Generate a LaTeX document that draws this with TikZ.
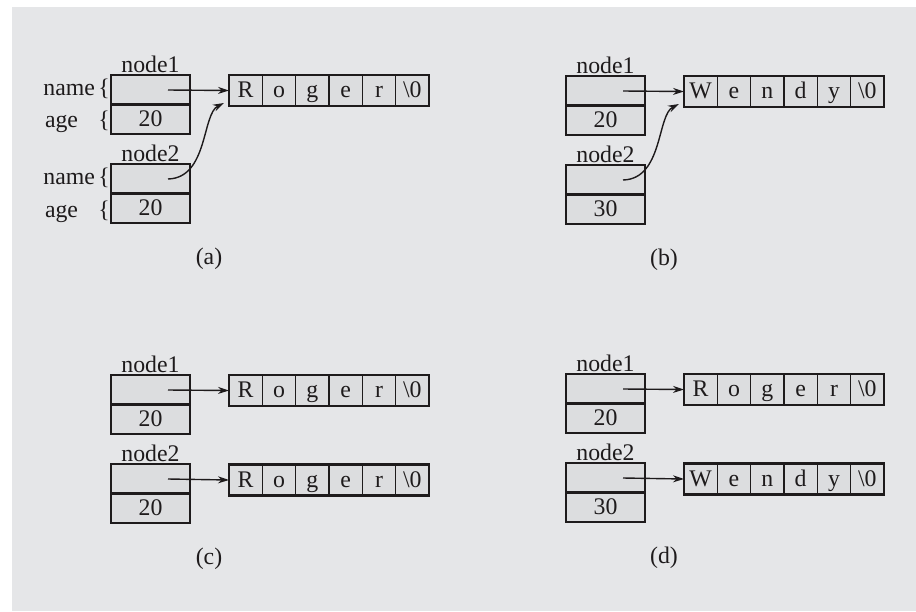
\documentclass[tikz,border=0pt]{standalone}
\usepackage{fontspec}
\setmainfont{Liberation Serif}
\usetikzlibrary{arrows.meta}
\definecolor{bgc}{HTML}{E5E6E8}
\definecolor{cellc}{HTML}{DCDDDF}
\definecolor{ink}{HTML}{1E1B1C}
\tikzset{
  every node/.style={font=\fontsize{23.8}{28}\selectfont, text=ink},
  lbl/.style={anchor=base, inner sep=0pt, outer sep=0pt},
  fcell/.style={draw=ink, fill=cellc, line width=2.2pt, minimum width=79pt, minimum height=29.5pt,
                inner sep=0pt, outer sep=0pt, text height=16pt, text depth=1.5pt},
  scell/.style={draw=ink, fill=cellc, line width=1.6pt, minimum width=33.33pt, minimum height=31pt,
                inner sep=0pt, outer sep=0pt, text height=16pt, text depth=1.5pt},
  souter/.style={draw=ink, line width=2.4pt},
  arr/.style={draw=ink, line width=1.4pt, -{Stealth[length=11pt,width=7pt]}}
}
\newcommand{\mkstruct}[3]{%
  \node[lbl] (#1t1) at (150.5,72) {node1};
  \node[fcell] (#1n1) at (150.5,89.75) {};
  \node[fcell] (#1v1) at (150.5,119.25) {#2};
  \node[lbl] (#1t2) at (150.5,161) {node2};
  \node[fcell] (#1n2) at (150.5,178.75) {};
  \node[fcell] (#1v2) at (150.5,208.25) {#3};
  \coordinate (#1p1) at (168,90);
  \coordinate (#1p2) at (168,179);
}
\newcommand{\mkstring}[3]{%
  \foreach \c [count=\i] in {#3} {
    \node[scell] (#1\i) at ({229+33.333*(\i-0.5)},#2) {\c};
  }
  \draw[souter] (#11.north west) rectangle (#16.south east);
}
\begin{document}
\begin{tikzpicture}[x=1pt,y=-1pt]
\useasboundingbox (0,0) rectangle (916,611);
\fill[bgc] (12,7) rectangle (916,611);

% (a)
\begin{scope}
  \mkstruct{a}{20}{20}
  \mkstring{as}{90.5}{R,o,g,e,r,\textbackslash 0}
  \node[lbl, anchor=base east] (aname1) at (95,95) {name};
  \node[lbl] (abr1) at (104,95) {\{};
  \node[lbl, anchor=base west] (aage1) at (45,127) {age};
  \node[lbl] (abr2) at (104,127) {\{};
  \node[lbl, anchor=base east] (aname2) at (95,184) {name};
  \node[lbl] (abr3) at (104,184) {\{};
  \node[lbl, anchor=base west] (aage2) at (45,217) {age};
  \node[lbl] (abr4) at (104,217) {\{};
  \coordinate (ae) at (224,103);
  \draw[arr] (ap1) -- (as1.west);
  \draw[arr] (ap2) .. controls (208,178) and (202,114) .. (ae);
  \node[lbl] (acap) at (209,264) {(a)};
\end{scope}

% (b)
\begin{scope}[shift={(455,1)}]
  \mkstruct{b}{20}{30}
  \mkstring{bs}{90.5}{W,e,n,d,y,\textbackslash 0}
  \coordinate (be) at (224,103);
  \draw[arr] (bp1) -- (bs1.west);
  \draw[arr] (bp2) .. controls (208,178) and (202,114) .. (be);
  \node[lbl] (bcap) at (209,264) {(b)};
\end{scope}

% (c)
\begin{scope}[shift={(0,300)}]
  \mkstruct{c}{20}{20}
  \mkstring{cs}{90.5}{R,o,g,e,r,\textbackslash 0}
  \mkstring{ct}{180}{R,o,g,e,r,\textbackslash 0}
  \draw[arr] (cp1) -- (cs1.west);
  \draw[arr] (cp2) -- (ct1.west);
  \node[lbl] (ccap) at (209,264) {(c)};
\end{scope}

% (d)
\begin{scope}[shift={(455,299)}]
  \mkstruct{d}{20}{30}
  \mkstring{ds}{90.5}{R,o,g,e,r,\textbackslash 0}
  \mkstring{dt}{180}{W,e,n,d,y,\textbackslash 0}
  \draw[arr] (dp1) -- (ds1.west);
  \draw[arr] (dp2) -- (dt1.west);
  \node[lbl] (dcap) at (209,264) {(d)};
\end{scope}
\end{tikzpicture}
\end{document}
